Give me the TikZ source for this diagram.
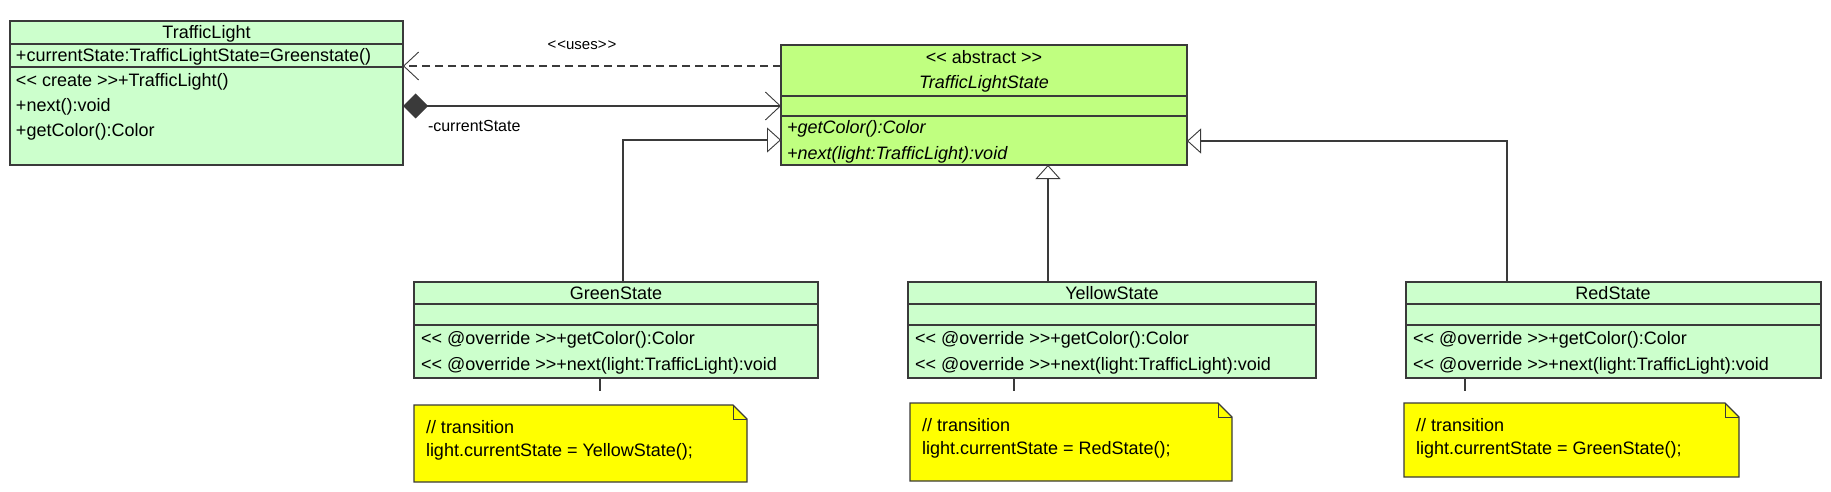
\documentclass[tikz,border=0pt]{standalone}
\usepackage{fontspec}
\setmainfont{Liberation Sans}
\usetikzlibrary{arrows.meta,positioning}
\definecolor{classgreen}{HTML}{CCFFCC}
\definecolor{abstractgreen}{HTML}{C0FF80}
\definecolor{noteyellow}{HTML}{FFFF00}
\definecolor{linegray}{HTML}{3A3A3A}
% keep << and >> from turning into guillemets
\newcommand{\stL}{<\kern0pt<}
\newcommand{\stR}{>\kern0pt>}

\begin{document}
\begin{tikzpicture}[
    x=1pt, y=-1pt,
    font=\fontsize{18}{20}\selectfont,
    every node/.style={inner sep=0pt, outer sep=0pt},
    classbox/.style={
        draw=linegray, line width=1.3pt,
        fill=classgreen, anchor=north west
    },
    notebox/.style={anchor=north west},
    member/.style={anchor=west, text height=13pt, text depth=4pt},
    title/.style={text height=13pt, text depth=4pt},
    divider/.style={draw=linegray, line width=1.3pt},
    link/.style={draw=linegray, line width=1.1pt},
    openhead/.style={-{Straight Barb[length=15pt,width=28pt,line width=0.9pt]}},
    inherit/.style={-{Triangle[open,length=14pt,width=25pt,fill=white,line width=0.9pt]}}
]
\useasboundingbox (0,0) rectangle (1831,492);

% classes
\node[classbox, minimum width=393pt, minimum height=144pt] (light) at (10,21) {};
\node[classbox, fill=abstractgreen, minimum width=406pt, minimum height=120pt] (state) at (781,45) {};
\node[classbox, minimum width=404pt, minimum height=96pt] (green) at (414,282) {};
\node[classbox, minimum width=408pt, minimum height=96pt] (yellow) at (908,282) {};
\node[classbox, minimum width=415pt, minimum height=96pt] (red) at (1406,282) {};

% compartments
\draw[divider] ([yshift=-23pt]light.north west) -- ([yshift=-23pt]light.north east);
\draw[divider] ([yshift=-46pt]light.north west) -- ([yshift=-46pt]light.north east);
\draw[divider] ([yshift=-51pt]state.north west) -- ([yshift=-51pt]state.north east);
\draw[divider] ([yshift=-71pt]state.north west) -- ([yshift=-71pt]state.north east);
\foreach \cls in {green,yellow,red} {
    \draw[divider] ([yshift=-22pt]\cls.north west) -- ([yshift=-22pt]\cls.north east);
    \draw[divider] ([yshift=-43pt]\cls.north west) -- ([yshift=-43pt]\cls.north east);
}

% TrafficLight
\node[title] (lightname) at (206.5,34) {TrafficLight};
\node[member] (lightattr) at (16,57) {+currentState:TrafficLightState=Greenstate()};
\node[member] (lightcreate) at (16,82) {\stL{} create \stR+TrafficLight()};
\node[member] (lightnext) at (16,107) {+next():void};
\node[member] (lightcolor) at (16,132) {+getColor():Color};

% TrafficLightState
\node[title] (statestereo) at (984,59) {\stL{} abstract \stR};
\node[title] (statename) at (984,84) {\itshape TrafficLightState};
\node[member] (statecolor) at (787,129) {\itshape +getColor():Color};
\node[member] (statenext) at (787,155) {\itshape +next(light:TrafficLight):void};

% concrete states
\node[title] (greenname) at (616,295) {GreenState};
\node[member] (greencolor) at (421,340) {\stL{} @override \stR+getColor():Color};
\node[member] (greennext) at (421,366) {\stL{} @override \stR+next(light:TrafficLight):void};
\node[title] (yellowname) at (1112,295) {YellowState};
\node[member] (yellowcolor) at (915,340) {\stL{} @override \stR+getColor():Color};
\node[member] (yellownext) at (915,366) {\stL{} @override \stR+next(light:TrafficLight):void};
\node[title] (redname) at (1613,295) {RedState};
\node[member] (redcolor) at (1413,340) {\stL{} @override \stR+getColor():Color};
\node[member] (rednext) at (1413,366) {\stL{} @override \stR+next(light:TrafficLight):void};

% notes
\node[notebox, minimum width=333pt, minimum height=77pt] (greennote) at (414,405) {};
\node[notebox, minimum width=322pt, minimum height=78pt] (yellownote) at (910,403) {};
\node[notebox, minimum width=335pt, minimum height=74pt] (rednote) at (1404,403) {};
\foreach \nt in {greennote,yellownote,rednote} {
    \draw[draw=linegray, line width=1.3pt, fill=noteyellow]
        (\nt.north west) -- ([xshift=-14pt]\nt.north east)
        -- ([yshift=-14pt]\nt.north east) -- (\nt.south east)
        -- (\nt.south west) -- cycle;
    \draw[draw=linegray, line width=1pt]
        ([xshift=-14pt]\nt.north east) |- ([yshift=-14pt]\nt.north east);
}
\node[member] (greenline1) at (426,429) {// transition};
\node[member] (greenline2) at (426,452) {light.currentState = YellowState();};
\node[member] (yellowline1) at (922,427) {// transition};
\node[member] (yellowline2) at (922,450) {light.currentState = RedState();};
\node[member] (redline1) at (1416,427) {// transition};
\node[member] (redline2) at (1416,450) {light.currentState = GreenState();};

% note stubs
\coordinate (greenstub) at (600,391);
\coordinate (yellowstub) at (1014,391);
\coordinate (redstub) at (1465,391);
\draw[link] (greenstub |- green.south) -- (greenstub);
\draw[link] (yellowstub |- yellow.south) -- (yellowstub);
\draw[link] (redstub |- red.south) -- (redstub);

% associations
\coordinate (usesrow) at (0,66);
\coordinate (comprow) at (0,106);
\draw[link, dashed, dash pattern=on 8pt off 5pt, openhead]
    (state.west |- usesrow) -- (light.east |- usesrow);
\node (uses) at (582,45) {\fontsize{15}{17}\selectfont <\kern1pt<uses>\kern1pt>};
\draw[link, {Diamond[length=25pt,width=25pt,fill=linegray]}-{Straight Barb[length=15pt,width=28pt,line width=0.9pt]}]
    (light.east |- comprow) -- (state.west |- comprow);
\node[member] (role) at (428,127) {\fontsize{16}{18}\selectfont -currentState};

% generalizations
\coordinate (greenbend) at (623,140);
\coordinate (yellowup) at (1048,0);
\coordinate (redbend) at (1507,141);
\draw[link, inherit] (green.north -| greenbend) |- (state.west |- greenbend);
\draw[link, inherit] (yellow.north -| yellowup) -- (state.south -| yellowup);
\draw[link, inherit] (red.north -| redbend) |- (state.east |- redbend);
\end{tikzpicture}
\end{document}
